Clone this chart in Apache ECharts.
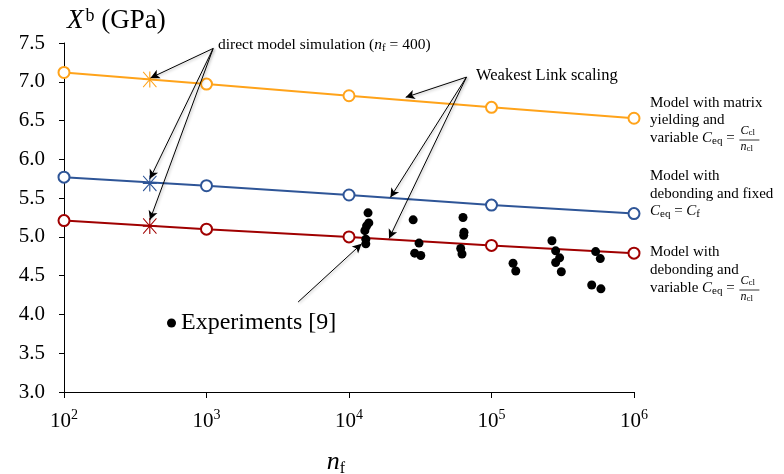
<!DOCTYPE html>
<html>
<head>
<meta charset="utf-8">
<script src="https://cdn.jsdelivr.net/npm/echarts@6/dist/echarts.min.js"></script>
<style>
  html, body { margin: 0; padding: 0; background: #fff; }
  #chart { width: 784px; height: 474px; }
</style>
</head>
<body>
<div id="chart"></div>
<script>
// model curves (weakest link scaling)
const nfModel = [100, 1000, 10000, 100000, 1000000]
const yieldVals = [7.12, 6.97, 6.82, 6.67, 6.53]
const fixedVals = [5.77, 5.66, 5.54, 5.41, 5.30]
const variableVals = [5.21, 5.10, 5.00, 4.89, 4.79]

// direct model simulation at nf = 400
const nfDirect = 400
const directVals = [7.03, 5.69, 5.14]

// experiments [9]
const expNf = [13600, 13770, 13280, 12920, 13120, 13120, 28200, 31000, 28900, 31900,
  63100, 64100, 63800, 60800, 62100, 141600, 148000, 265600, 282000, 300700,
  282000, 309000, 538000, 580000, 505000, 586000]
const expVals = [5.31, 5.18, 5.14, 5.08, 4.97, 4.91, 5.22, 4.92, 4.79, 4.76,
  5.25, 5.06, 5.02, 4.85, 4.78, 4.66, 4.56, 4.95, 4.82, 4.73,
  4.67, 4.55, 4.81, 4.72, 4.38, 4.33]

// annotation arrows: [from, to] in data coords
const directArrows = [
  [[1114, 7.43], [405, 7.05]],
  [[1114, 7.43], [401, 5.75]],
  [[1114, 7.43], [401, 5.22]]
]
const weakestArrows = [
  [[66700, 7.06], [25000, 6.80]],
  [[66700, 7.06], [19540, 5.51]],
  [[66700, 7.06], [19100, 4.98]]
]
const expArrow = [[[4395, 4.16], [12250, 4.91]]]

const orange = '#ffa31a'
const blue = '#2e5597'
const red = '#a00000'
const serif = 'Liberation Serif'

// asterisk marker
const starPath = 'path://M46,0L54,0L54,100L46,100Z M0,46L100,46L100,54L0,54Z M0,5L5,0L100,95L95,100Z M95,0L100,5L5,100L0,95Z'

const chart = echarts.init(document.getElementById('chart'))

const pairs = (xs, ys) => xs.map((x, i) => [x, ys[i]])

// text width helper for placing the fractions
const ctx = document.createElement('canvas').getContext('2d')
const tw = (font, s) => { ctx.font = font; return ctx.measureText(s).width }
const lblSize = 15
const eqWidth = tw(lblSize + 'px ' + serif, 'variable ') + tw('italic ' + lblSize + 'px ' + serif, 'C') +
  tw('11px ' + serif, 'eq') + tw(lblSize + 'px ' + serif, ' = ')

const modelSeries = (vals, color) => ({
  type: 'line',
  data: pairs(nfModel, vals),
  symbol: 'emptyCircle',
  symbolSize: 11,
  lineStyle: { color: color, width: 2 },
  itemStyle: { color: color, borderColor: color, borderWidth: 2 },
  z: 3,
  silent: true
})

const starSeries = (val, color) => ({
  type: 'scatter',
  data: [[nfDirect, val]],
  symbol: starPath,
  symbolSize: [14, 16],
  itemStyle: { color: color, opacity: 1 },
  z: 4,
  silent: true
})

const arrowLines = (arrs) => arrs.map(a => [{ coord: a[0] }, { coord: a[1] }])

const frRich = {
  i: { fontFamily: serif, fontStyle: 'italic', fontSize: 12 },
  s: { fontFamily: serif, fontSize: 9, padding: [4, 0, 0, 0] }
}
const fracText = (x, y) => ([
  { type: 'text', left: x, top: y - 15, style: { text: '{i|C}{s|cl}', rich: frRich, fill: '#000' } },
  { type: 'line', shape: { x1: x - 1, y1: y, x2: x + 19, y2: y }, style: { stroke: '#000', lineWidth: 0.8 } },
  { type: 'text', left: x, top: y + 1, style: { text: '{i|n}{s|cl}', rich: frRich, fill: '#000' } }
])
const lblRich = {
  n: { fontFamily: serif, fontSize: lblSize, fill: '#000' },
  i: { fontFamily: serif, fontStyle: 'italic', fontSize: lblSize },
  s: { fontFamily: serif, fontSize: 11, padding: [6, 0, 0, 0] }
}
const annRich = {
  n: { fontFamily: serif, fontSize: 15.5, fill: '#000' },
  i: { fontFamily: serif, fontStyle: 'italic', fontSize: 15.5 },
  s: { fontFamily: serif, fontSize: 11, padding: [6, 0, 0, 0] },
  w: { fontFamily: serif, fontSize: 16.5, fill: '#000' }
}
const rightText = (y, text) => ({
  type: 'text', left: 650, top: y - 9,
  style: { text: text, rich: lblRich, fill: '#000' }
})

chart.setOption({
  animation: false,
  grid: { left: 64, right: 150, top: 43, bottom: 82, containLabel: false, outerBoundsMode: 'none' },
  xAxis: {
    type: 'log',
    logBase: 10,
    min: 100,
    max: 1000000,
    name: '{i|n}{s|f}',
    nameLocation: 'middle',
    nameGap: 55,
    nameTextStyle: {
      padding: [0, 26, 0, 0],
      rich: {
        i: { fontFamily: serif, fontStyle: 'italic', fontSize: 26, color: '#000' },
        s: { fontFamily: serif, fontSize: 16, color: '#000', padding: [14, 0, 0, 0] }
      }
    },
    axisLine: { lineStyle: { color: '#000', width: 1 } },
    axisTick: { length: 6, lineStyle: { color: '#000' } },
    splitLine: { show: false },
    axisLabel: {
      margin: 16,
      formatter: v => '{b|10}{s|' + Math.round(Math.log10(v)) + '}',
      rich: {
        b: { fontFamily: serif, fontSize: 21, color: '#000' },
        s: { fontFamily: serif, fontSize: 14, color: '#000', padding: [0, 0, 12, 0] }
      }
    }
  },
  yAxis: {
    type: 'value',
    min: 3,
    max: 7.5,
    interval: 0.5,
    axisLine: { show: true, lineStyle: { color: '#000', width: 1 } },
    axisTick: { show: true, length: 5, lineStyle: { color: '#000' } },
    splitLine: { show: false },
    axisLabel: {
      margin: 19,
      fontFamily: serif,
      fontSize: 21,
      color: '#000',
      formatter: v => v.toFixed(1)
    }
  },
  legend: {
    data: [{ name: 'Experiments [9]', itemStyle: { opacity: 1 } }],
    left: 162,
    top: 306,
    itemWidth: 9,
    itemHeight: 9,
    itemGap: 4,
    textStyle: { fontFamily: serif, fontSize: 24, color: '#000' }
  },
  graphic: [
    {
      type: 'text', left: 67, top: 7,
      style: {
        text: '{i|X}{s|b}{n| (GPa)}',
        rich: {
          i: { fontFamily: serif, fontStyle: 'italic', fontSize: 27 },
          s: { fontFamily: serif, fontSize: 18, padding: [0, 0, 10, 2] },
          n: { fontFamily: serif, fontSize: 27 }
        },
        fill: '#000'
      }
    },
    {
      type: 'text', left: 218, top: 37,
      style: { text: '{n|direct model simulation (}{i|n}{s|f}{n| = 400)}', rich: annRich, fill: '#000' }
    },
    {
      type: 'text', left: 476, top: 67,
      style: { text: '{w|Weakest Link scaling}', rich: annRich, fill: '#000' }
    },
    rightText(105, '{n|Model with matrix}'),
    rightText(122, '{n|yielding and}'),
    rightText(140, '{n|variable }{i|C}{s|eq}{n| = }'),
    ...fracText(652 + eqWidth, 140),
    rightText(178, '{n|Model with}'),
    rightText(196, '{n|debonding and fixed}'),
    rightText(213, '{i|C}{s|eq}{n| = }{i|C}{s|f}'),
    rightText(254, '{n|Model with}'),
    rightText(272, '{n|debonding and}'),
    rightText(290, '{n|variable }{i|C}{s|eq}{n| = }'),
    ...fracText(652 + eqWidth, 290)
  ],
  series: [
    modelSeries(yieldVals, orange),
    modelSeries(fixedVals, blue),
    modelSeries(variableVals, red),
    starSeries(directVals[0], orange),
    starSeries(directVals[1], blue),
    starSeries(directVals[2], red),
    {
      name: 'Experiments [9]',
      type: 'scatter',
      data: pairs(expNf, expVals),
      symbol: 'circle',
      symbolSize: 9,
      itemStyle: { color: '#000', opacity: 1 },
      z: 5,
      silent: true
    },
    {
      type: 'line',
      data: [],
      silent: true,
      markLine: {
        silent: true,
        symbol: ['none', 'arrow'],
        symbolSize: [7, 9],
        label: { show: false },
        lineStyle: { color: '#000', width: 1, type: 'solid', shadowColor: 'rgba(0,0,0,0.35)', shadowBlur: 3, shadowOffsetX: 1, shadowOffsetY: 1 },
        emphasis: { disabled: true },
        animation: false,
        data: arrowLines(directArrows).concat(arrowLines(weakestArrows), arrowLines(expArrow))
      }
    }
  ]
})
</script>
</body>
</html>
